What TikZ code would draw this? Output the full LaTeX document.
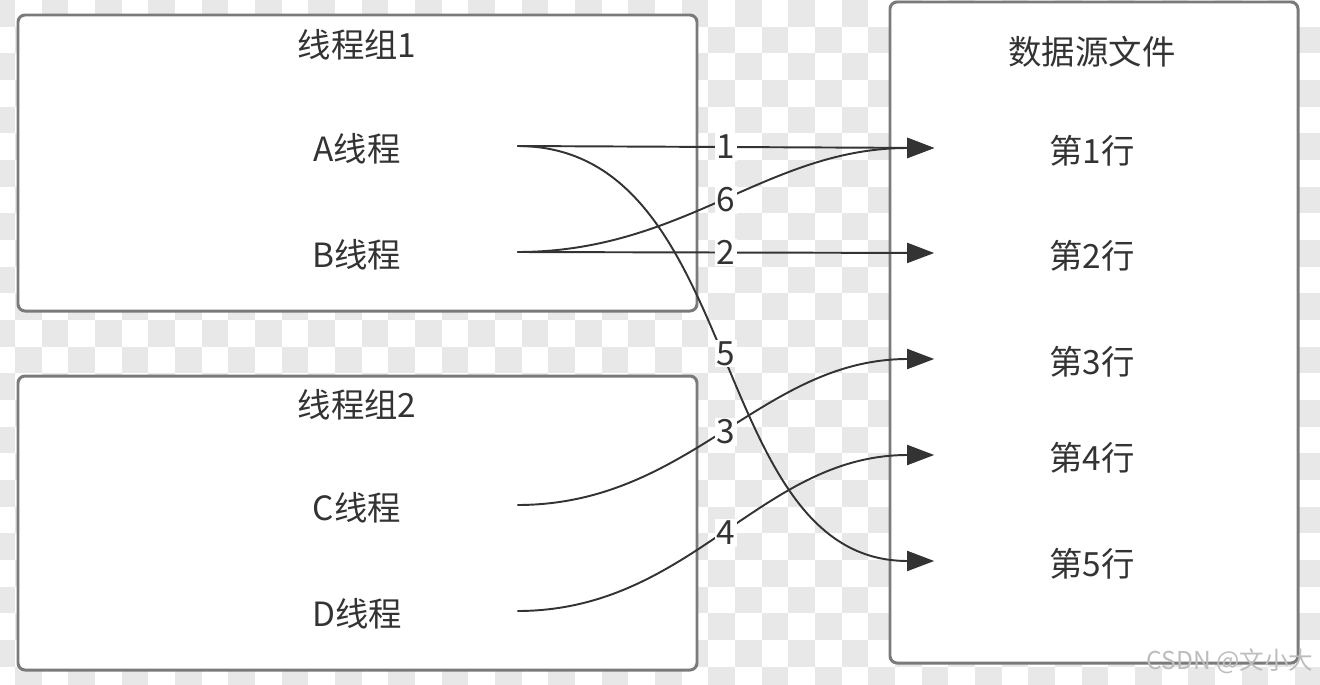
\documentclass[tikz,border=0pt]{standalone}
\usepackage{fontspec}
\setmainfont{Noto Sans CJK SC}
\usetikzlibrary{arrows.meta}
\definecolor{Ink}{HTML}{333333}
\definecolor{FrameGray}{HTML}{7A7A7A}
\definecolor{CheckGray}{HTML}{E8E8E8}
\definecolor{MarkGray}{HTML}{BDBDBD}
\tikzset{
  groupframe/.style={draw=FrameGray,fill=white,line width=1.7pt,rounded corners=4pt},
  grouptitle/.style={font=\fontsize{19}{22}\selectfont,text=Ink,inner sep=0pt},
  threadtext/.style={font=\fontsize{19}{22}\selectfont,text=Ink,minimum width=6.4cm,inner sep=0pt,text height=19pt},
  rowtext/.style={font=\fontsize{19}{22}\selectfont,text=Ink,minimum width=6.3cm,inner sep=0pt,text height=19pt},
  readarrow/.style={draw=Ink,line width=1.1pt,-{Triangle[length=5.4mm,width=4mm]}},
  stepnum/.style={font=\fontsize{19}{22}\selectfont,text=Ink,fill=white,inner sep=1pt},
  watermark/.style={font=\fontsize{14}{16}\selectfont,text=MarkGray,inner sep=0pt}
}

\begin{document}
\begin{tikzpicture}[x=0.02cm,y=-0.02cm]
  \useasboundingbox (0,0) rectangle (1320,684);
  % transparency grid behind the frames
  \begin{scope}
    \clip (0,0) rectangle (1320,684);
    \foreach \i in {0,...,50}{
      \foreach \j in {0,...,25}{
        \pgfmathtruncatemacro\cellsum{\i+\j+1}
        \ifodd\cellsum
          \fill[CheckGray] (-11.67+26.67*\i,26.67*\j) rectangle ++(26.67,26.67);
        \fi
      }
    }
  \end{scope}

  % frames
  \draw[groupframe] (18,15) rectangle (697,311);
  \draw[groupframe] (18,376) rectangle (697,670);
  \draw[groupframe] (890,2) rectangle (1298,663);

  \node[grouptitle] (g1) at (357,45) {线程组1};
  \node[grouptitle] (g2) at (357,405) {线程组2};
  \node[grouptitle] (src) at (1092,52) {数据源文件};

  \node[threadtext] (ta) at (357,146) {A线程};
  \node[threadtext] (tb) at (357,252) {B线程};
  \node[threadtext] (tc) at (357,505) {C线程};
  \node[threadtext] (td) at (357,611) {D线程};

  \node[rowtext] (r1) at (1092,148) {第1行};
  \node[rowtext] (r2) at (1092,253) {第2行};
  \node[rowtext] (r3) at (1092,359) {第3行};
  \node[rowtext] (r4) at (1092,455) {第4行};
  \node[rowtext] (r5) at (1092,561) {第5行};

  % reads
  \draw[readarrow] (ta.east) -- node[stepnum] {1} (r1.west);
  \draw[readarrow] (tb.east) -- node[stepnum] {2} (r2.west);
  \draw[readarrow] (tb.east) to[out=0,in=180] node[stepnum] {6} (r1.west);
  \draw[readarrow] (ta.east) to[out=0,in=180] node[stepnum] {5} (r5.west);
  \draw[readarrow] (tc.east) to[out=0,in=180] node[stepnum] {3} (r3.west);
  \draw[readarrow] (td.east) to[out=0,in=180] node[stepnum] {4} (r4.west);

  \node[watermark] (mark) at (1230,661) {CSDN @文小大};
\end{tikzpicture}
\end{document}
